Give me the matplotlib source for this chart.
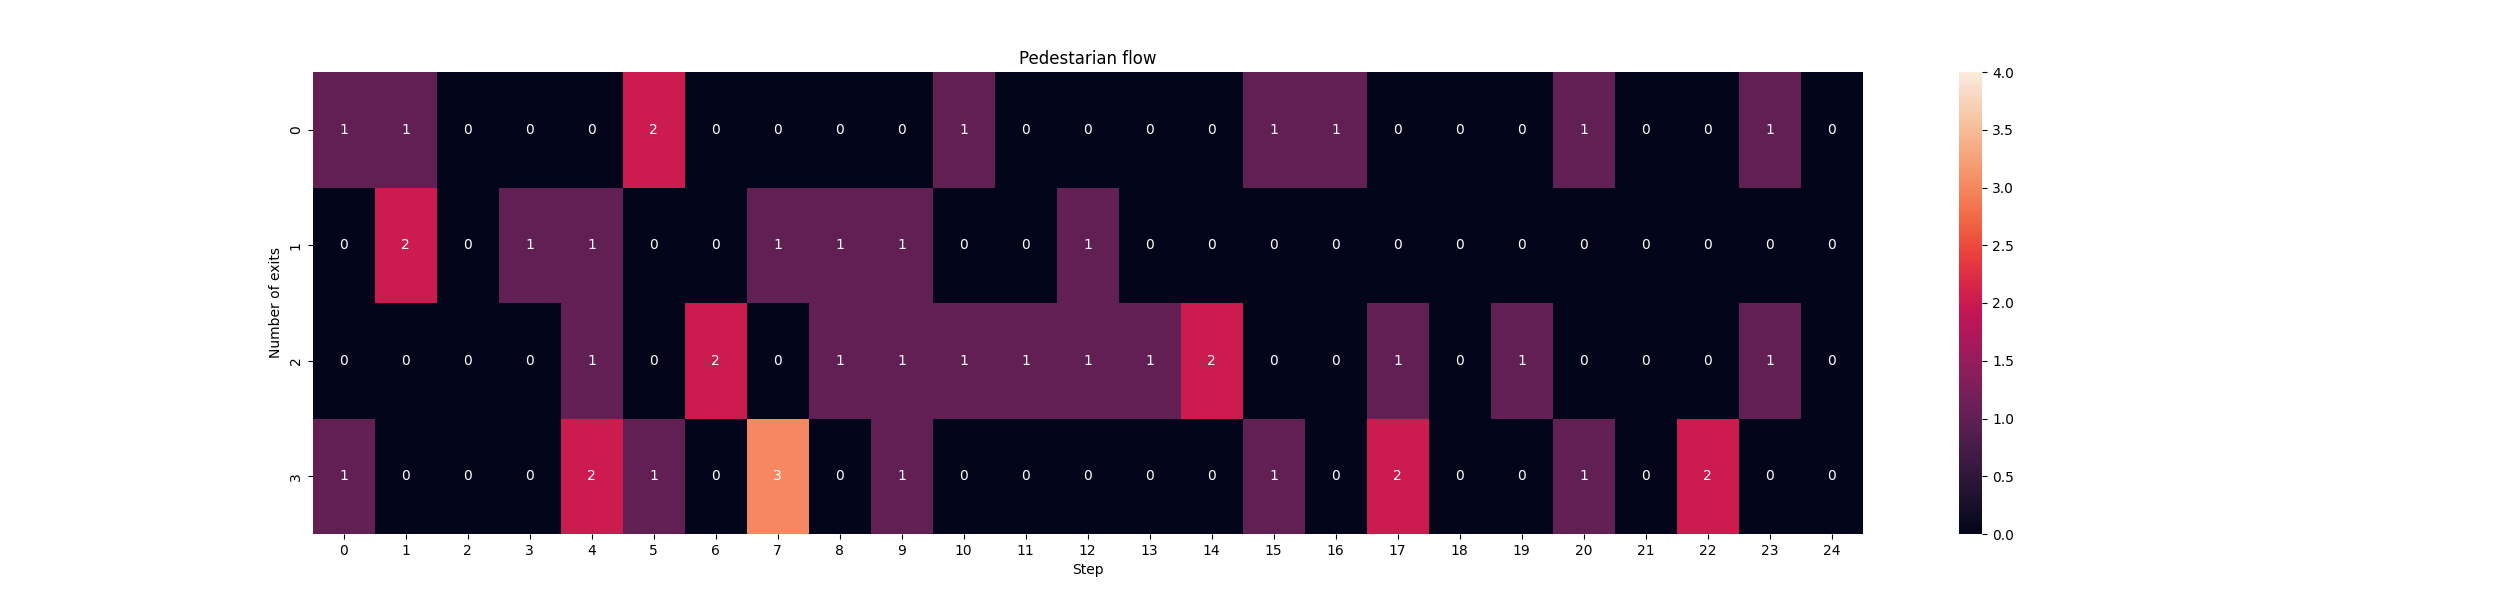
import matplotlib
matplotlib.use("Agg")
import matplotlib.pyplot as plt
import seaborn as sns
import numpy as np

steps = list(range(25))
exits = [0, 1, 2, 3]
row0 = [1, 1, 0, 0, 0, 2, 0, 0, 0, 0, 1, 0, 0, 0, 0, 1, 1, 0, 0, 0, 1, 0, 0, 1, 0]
row1 = [0, 2, 0, 1, 1, 0, 0, 1, 1, 1, 0, 0, 1, 0, 0, 0, 0, 0, 0, 0, 0, 0, 0, 0, 0]
row2 = [0, 0, 0, 0, 1, 0, 2, 0, 1, 1, 1, 1, 1, 1, 2, 0, 0, 1, 0, 1, 0, 0, 0, 1, 0]
row3 = [1, 0, 0, 0, 2, 1, 0, 3, 0, 1, 0, 0, 0, 0, 0, 1, 0, 2, 0, 0, 1, 0, 2, 0, 0]

data = np.array([row0, row1, row2, row3])

fig = plt.figure(figsize=(25, 6), dpi=100)
ax = sns.heatmap(data, annot=True, vmin=0, vmax=4, xticklabels=steps, yticklabels=exits)
ax.set_title("Pedestarian flow")
ax.set_xlabel("Step")
ax.set_ylabel("Number of exits")
fig.savefig("out.png", dpi=100)
